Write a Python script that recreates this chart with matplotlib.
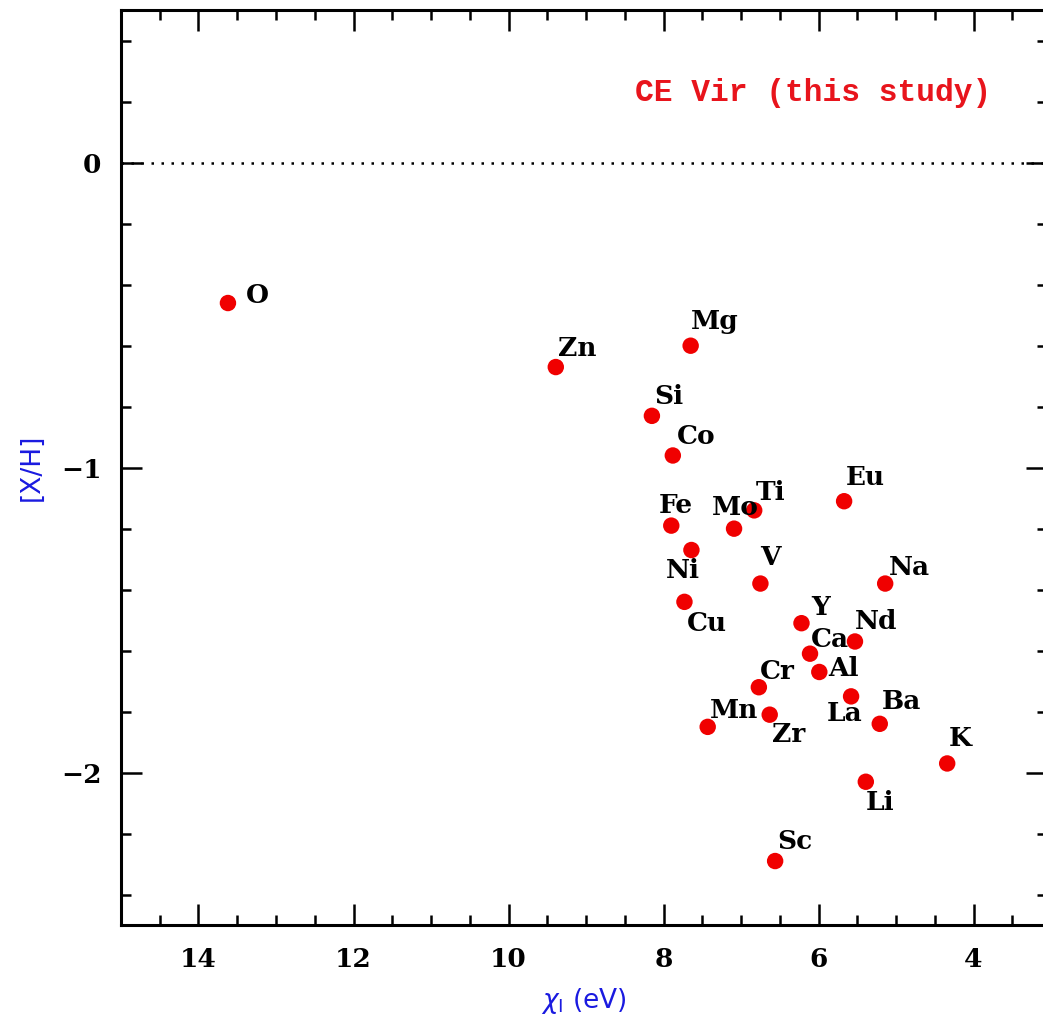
import matplotlib.pyplot as plt
from matplotlib.ticker import MultipleLocator

# Datos: potencial de ionizacion (eV) y abundancia [X/H]
elementos = ["O", "Zn", "Mg", "Si", "Co", "Fe", "Mo", "Ti", "Eu", "Ni", "V", "Na",
             "Cu", "Y", "Nd", "Ca", "Al", "Cr", "La", "Ba", "Mn", "Zr", "K", "Li", "Sc"]
chi_ion = [13.62, 9.39, 7.65, 8.15, 7.88, 7.90, 7.09, 6.83, 5.67, 7.64, 6.75, 5.14,
           7.73, 6.22, 5.53, 6.11, 5.99, 6.77, 5.58, 5.21, 7.43, 6.63, 4.34, 5.39, 6.56]
abund = [-0.46, -0.67, -0.60, -0.83, -0.96, -1.19, -1.20, -1.14, -1.11, -1.27, -1.38, -1.38,
         -1.44, -1.51, -1.57, -1.61, -1.67, -1.72, -1.75, -1.84, -1.85, -1.81, -1.97, -2.03, -2.29]

# Desplazamiento de cada etiqueta respecto al punto (pixeles)
desplaz = {
    "O": (18, 8), "Zn": (2, 19), "Mg": (0, 24), "Si": (2, 19), "Co": (4, 19),
    "Fe": (-13, 20), "Mo": (-22, 21), "Ti": (2, 18), "Eu": (2, 24), "Ni": (-26, -20),
    "V": (0, 26), "Na": (4, 16), "Cu": (2, -22), "Y": (10, 16), "Nd": (0, 20),
    "Ca": (1, 14), "Al": (9, 3), "Cr": (1, 16), "La": (-24, -17), "Ba": (2, 22),
    "Mn": (2, 16), "Zr": (2, -20), "K": (2, 25), "Li": (0, -21), "Sc": (2, 20),
}

fig = plt.figure(figsize=(10.43, 10.29), dpi=100)
# el borde derecho del marco queda justo fuera de la imagen
ax = fig.add_axes([0.116, 0.101, 0.888, 0.889])

ax.axhline(0, color="black", linestyle=(0, (1, 3)), linewidth=1.8, zorder=1)
ax.scatter(chi_ion, abund, s=140, color="#f00000", edgecolors="none", zorder=3)

for nombre, x, y in zip(elementos, chi_ion, abund):
    dx, dy = desplaz[nombre]
    ax.annotate(nombre, (x, y), xytext=(dx * 0.72, dy * 0.72), textcoords="offset points",
                ha="left", va="center", fontsize=19, family="DejaVu Serif",
                fontweight="semibold", zorder=4)

ax.text(0.94, 0.91, "CE Vir (this study)", transform=ax.transAxes, ha="right", va="center",
        color="#e8141c", fontsize=22.5, family="Liberation Mono", fontweight="bold")

ax.set_xlim(15, 3.05)
ax.set_ylim(-2.5, 0.5)
ax.xaxis.set_major_locator(MultipleLocator(2))
ax.xaxis.set_minor_locator(MultipleLocator(0.5))
ax.yaxis.set_major_locator(MultipleLocator(1))
ax.yaxis.set_minor_locator(MultipleLocator(0.2))
ax.set_yticks([-2, -1, 0])
ax.set_yticklabels(["\u22122", "\u22121", "0"])

ax.tick_params(which="both", direction="in", top=True, right=True, width=1.8, colors="black")
ax.tick_params(which="major", length=15, pad=14, labelsize=19)
ax.tick_params(which="minor", length=7)
ax.tick_params(axis="x", which="major", pad=16)
for lab in ax.get_xticklabels() + ax.get_yticklabels():
    lab.set_family("DejaVu Serif")
    lab.set_fontweight("semibold")
for sp in ax.spines.values():
    sp.set_linewidth(2.2)

ax.set_xlabel(r"$\chi_\mathrm{I}$ (eV)", color="#1a1ae0", fontsize=19, family="DejaVu Sans", labelpad=10)
ax.set_ylabel("[X/H]", color="#1a1ae0", fontsize=19, family="DejaVu Sans", labelpad=12)

fig.savefig("out.png", dpi=100)
